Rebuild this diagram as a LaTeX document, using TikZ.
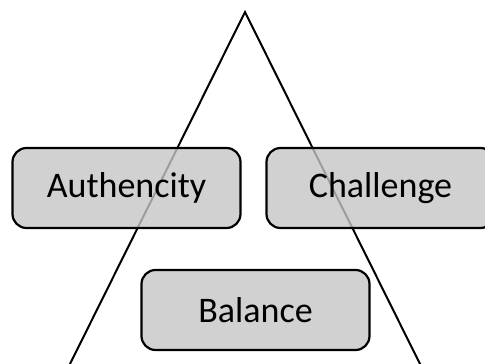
\documentclass[tikz,border=0pt]{standalone}
\usepackage{fontspec}
\setmainfont{Carlito}
\definecolor{boxgray}{RGB}{197,197,197}
\begin{document}
\begin{tikzpicture}[x=1pt,y=-1pt,
  box/.style={draw, line width=2.2pt, rounded corners=14pt, fill=boxgray,
    fill opacity=0.8, text opacity=1, minimum width=228pt, minimum height=80pt,
    font=\fontsize{36}{40}\selectfont}]
\useasboundingbox (0,0) rectangle (485,364);
% triangle
\coordinate (top) at (245,12);
\coordinate (left) at (69,366);
\coordinate (right) at (421,366);
\draw[line width=2pt] (left) -- (top) -- (right);
% boxes
\node[box] (authencity) at (126.5,188) {Authencity};
\node[box] (challenge) at (380.5,188) {Challenge};
\node[box] (balance) at (255.5,310) {Balance};
\end{tikzpicture}
\end{document}
